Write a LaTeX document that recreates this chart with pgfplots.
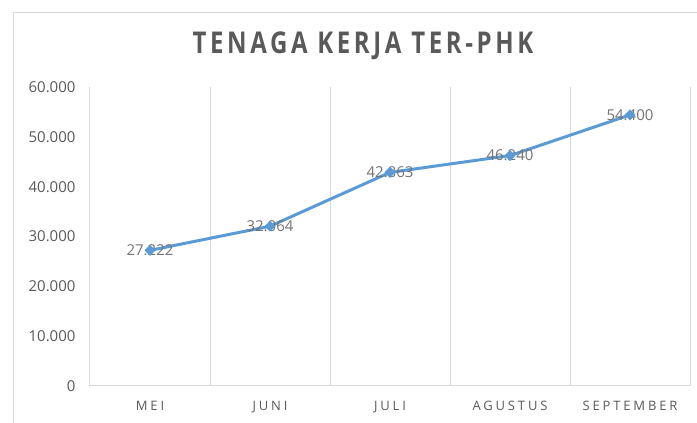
\documentclass[border=0pt]{standalone}
\usepackage{fontspec}
\setmainfont{Open Sans}
\newfontfamily\titlefont[FakeStretch=0.8,LetterSpace=12]{Open Sans}
\newfontfamily\xlabfont[LetterSpace=22]{Open Sans}
\usepackage{pgfplots}
\pgfplotsset{compat=1.18}
\definecolor{excelblue}{HTML}{5B9BD5}
\definecolor{txtgray}{HTML}{595959}
\definecolor{lblgray}{HTML}{737373}
\definecolor{gridgray}{HTML}{D9D9D9}
\begin{document}
\begin{tikzpicture}[x=1pt,y=1pt]
\useasboundingbox (0,0) rectangle (697,423);
\draw[gridgray,line width=1pt] (13,0) -- (13,410) -- (697,410);
\node[txtgray,font=\titlefont\bfseries\fontsize{30}{36}\selectfont] at (363,377) {TENAGA KERJA TER-PHK};
\begin{axis}[
  at={(90pt,37pt)}, anchor=south west,
  scale only axis, width=600pt, height=299pt,
  xmin=-0.5, xmax=4.5, ymin=0, ymax=60000,
  scaled y ticks=false,
  xtick={0,1,2,3,4},
  xticklabels={MEI,JUNI,JULI,AGUSTUS,SEPTEMBER},
  minor xtick={-0.5,0.5,1.5,2.5,3.5,4.5},
  xminorgrids, minor grid style={gridgray,line width=1pt},
  ytick={0,10000,20000,30000,40000,50000,60000},
  yticklabels={0,10.000,20.000,30.000,40.000,50.000,60.000},
  major tick length=0pt, minor tick length=0pt,
  axis line style={draw=none},
  axis x line*=bottom,
  x axis line style={draw=gridgray,line width=1pt},
  axis y line*=left,
  y axis line style={draw=none},
  yticklabel style={font=\fontsize{15}{18}\selectfont,text=txtgray,xshift=-11pt},
  xticklabel style={font=\xlabfont\fontsize{13}{16}\selectfont,text=txtgray,yshift=-12pt},
  clip=false,
]
\addplot[draw=none, nodes near coords, point meta=explicit symbolic,
  every node near coord/.style={anchor=center,text=lblgray,font=\fontsize{15}{18}\selectfont}]
  coordinates {(0,27222)[27.222] (1,32064)[32.064] (2,42863)[42.863] (3,46240)[46.240] (4,54400)[54.400]};
\addplot[excelblue, line width=3pt, mark=square*, mark size=3.6pt, mark options={rotate=45,fill=excelblue,draw=excelblue,line width=0.5pt}]
  coordinates {(0,27222) (1,32064) (2,42863) (3,46240) (4,54400)};
\end{axis}
\end{tikzpicture}
\end{document}
